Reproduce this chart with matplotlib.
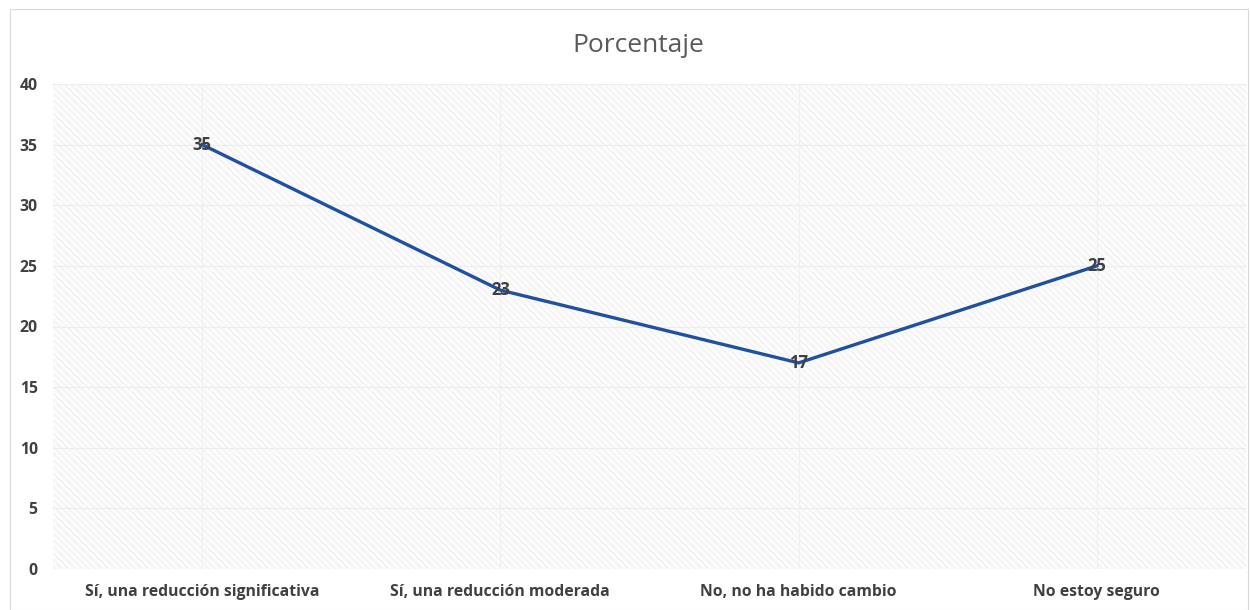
import matplotlib.pyplot as plt
import matplotlib.patches as mpatches
import numpy as np

plt.rcParams['font.family'] = ['Open Sans', 'DejaVu Sans']
plt.rcParams['hatch.linewidth'] = 0.5
plt.rcParams['hatch.color'] = '#e6e6e6'

# datos
categorias = ['Sí, una reducción significativa', 'Sí, una reducción moderada',
              'No, no ha habido cambio', 'No estoy seguro']
porcentaje = [35, 23, 17, 25]

x = np.arange(len(categorias))

fig = plt.figure(figsize=(12.5, 6.1), dpi=100)
ax = fig.add_axes([53 / 1250, 1 - 569 / 610, (1246 - 53) / 1250, (569 - 84) / 610])

# borde del gráfico
fig.patches.append(mpatches.Rectangle((10 / 1250, 0), 1238 / 1250, 1 - 9 / 610,
                                      transform=fig.transFigure, fill=False,
                                      edgecolor='#d9d9d9', linewidth=0.8))

# fondo rayado del área de trazado
ax.set_facecolor('#fbfbfb')
ax.add_patch(mpatches.Rectangle((0, 0), 1, 1, transform=ax.transAxes,
                                facecolor='none', hatch='\\\\\\\\\\',
                                edgecolor='#ececec', linewidth=0, zorder=0))

ax.plot(x, porcentaje, color='#1f51a0', linewidth=2.4, zorder=3)

for xi, v in zip(x, porcentaje):
    ax.text(xi, v, str(v), ha='center', va='center', fontsize=12,
            fontweight='bold', color='#404040', zorder=4)

ax.set_xlim(-0.5, len(categorias) - 0.5)
ax.set_ylim(0, 40)
ax.set_yticks(np.arange(0, 41, 5))
ax.set_xticks(x)
ax.set_xticklabels(categorias)

for lab in ax.get_xticklabels() + ax.get_yticklabels():
    lab.set_fontweight('bold')
    lab.set_color('#404040')
    lab.set_fontsize(11.3)

ax.tick_params(axis='both', length=0)
ax.tick_params(axis='x', pad=11)
ax.tick_params(axis='y', pad=11)

ax.grid(True, axis='y', color='#ececec', linewidth=0.8, zorder=1)
ax.grid(True, axis='x', color='#f0f0f0', linewidth=0.8, zorder=1)
ax.set_axisbelow(True)
for s in ax.spines.values():
    s.set_visible(False)

fig.text(638 / 1250, 1 - 45 / 610, 'Porcentaje', ha='center', va='center',
         fontsize=19, color='#595959')

fig.savefig('out.png', dpi=100, facecolor='white')
